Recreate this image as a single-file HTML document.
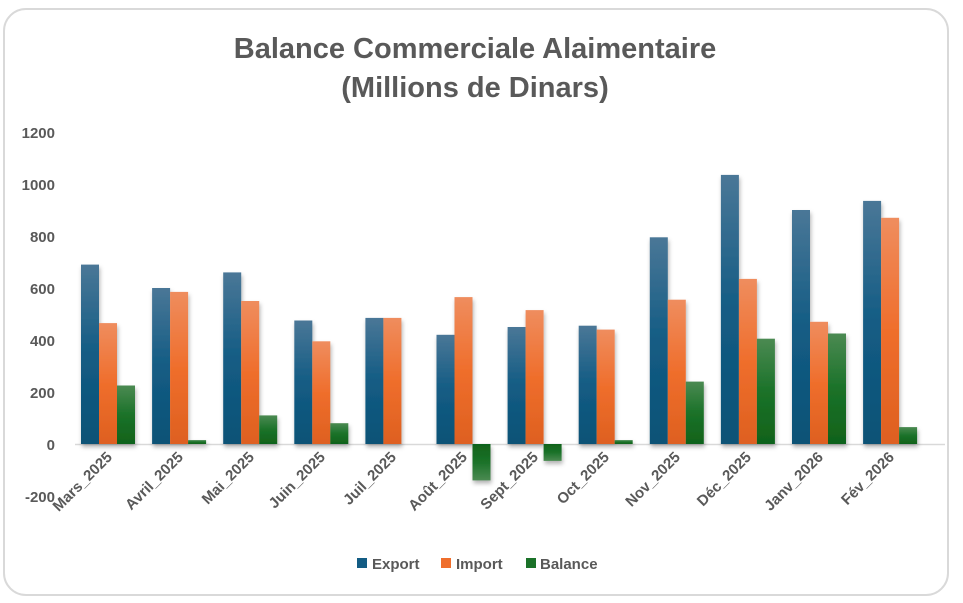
<!DOCTYPE html>
<html><head><meta charset="utf-8"><style>
html,body{margin:0;padding:0;background:#fff;}
svg{display:block;font-family:"Liberation Sans",sans-serif;}
</style></head><body>
<svg width="963" height="603" viewBox="0 0 963 603" xmlns="http://www.w3.org/2000/svg">
<defs>
<linearGradient id="ge" x1="0" y1="0" x2="0" y2="1"><stop offset="0" stop-color="#4a7797"/><stop offset="0.5" stop-color="#135c84"/><stop offset="1" stop-color="#0d5276"/></linearGradient>
<linearGradient id="gi" x1="0" y1="0" x2="0" y2="1"><stop offset="0" stop-color="#ef8d5e"/><stop offset="0.5" stop-color="#ef6e2c"/><stop offset="1" stop-color="#de6020"/></linearGradient>
<linearGradient id="gb" x1="0" y1="0" x2="0" y2="1"><stop offset="0" stop-color="#4b8a52"/><stop offset="0.5" stop-color="#1b7229"/><stop offset="1" stop-color="#10621a"/></linearGradient>
<linearGradient id="gbn" x1="0" y1="1" x2="0" y2="0"><stop offset="0" stop-color="#4b8a52"/><stop offset="0.5" stop-color="#1b7229"/><stop offset="1" stop-color="#10621a"/></linearGradient>
<filter id="sh" x="-20%" y="-5%" width="140%" height="115%"><feDropShadow dx="1" dy="3" stdDeviation="2" flood-color="#000" flood-opacity="0.3"/></filter>
</defs>
<rect x="4" y="9" width="944" height="586" rx="22" ry="22" fill="#fff" stroke="#d9d9d9" stroke-width="2"/>
<text x="475" y="58" text-anchor="middle" font-size="29" font-weight="bold" fill="#595959">Balance Commerciale Alaimentaire</text>
<text x="475" y="97" text-anchor="middle" font-size="29" font-weight="bold" fill="#595959">(Millions de Dinars)</text>
<g font-size="15" font-weight="bold" fill="#595959" text-anchor="end">
<text x="55" y="138">1200</text><text x="55" y="190">1000</text><text x="55" y="242">800</text><text x="55" y="294">600</text><text x="55" y="346">400</text><text x="55" y="398">200</text><text x="55" y="450">0</text><text x="55" y="502">-200</text>
</g>
<line x1="75" y1="444.5" x2="945" y2="444.5" stroke="#d9d9d9" stroke-width="1.5"/>
<g filter="url(#sh)">
<rect x="81" y="264.6" width="18" height="179.4" fill="url(#ge)"/><rect x="99" y="323.1" width="18" height="120.9" fill="url(#gi)"/><rect x="117" y="385.5" width="18" height="58.5" fill="url(#gb)"/>
<rect x="152.1" y="288" width="18" height="156" fill="url(#ge)"/><rect x="170.1" y="291.9" width="18" height="152.1" fill="url(#gi)"/><rect x="188.1" y="440.1" width="18" height="3.9" fill="url(#gb)"/>
<rect x="223.2" y="272.4" width="18" height="171.6" fill="url(#ge)"/><rect x="241.2" y="301" width="18" height="143" fill="url(#gi)"/><rect x="259.2" y="415.4" width="18" height="28.6" fill="url(#gb)"/>
<rect x="294.3" y="320.5" width="18" height="123.5" fill="url(#ge)"/><rect x="312.3" y="341.3" width="18" height="102.7" fill="url(#gi)"/><rect x="330.3" y="423.2" width="18" height="20.8" fill="url(#gb)"/>
<rect x="365.4" y="317.9" width="18" height="126.1" fill="url(#ge)"/><rect x="383.4" y="317.9" width="18" height="126.1" fill="url(#gi)"/>
<rect x="436.5" y="334.8" width="18" height="109.2" fill="url(#ge)"/><rect x="454.5" y="297.1" width="18" height="146.9" fill="url(#gi)"/><rect x="472.5" y="444" width="18" height="36.4" fill="url(#gbn)"/>
<rect x="507.6" y="327" width="18" height="117" fill="url(#ge)"/><rect x="525.6" y="310.1" width="18" height="133.9" fill="url(#gi)"/><rect x="543.6" y="444" width="18" height="16.9" fill="url(#gbn)"/>
<rect x="578.7" y="325.7" width="18" height="118.3" fill="url(#ge)"/><rect x="596.7" y="329.6" width="18" height="114.4" fill="url(#gi)"/><rect x="614.7" y="440.1" width="18" height="3.9" fill="url(#gb)"/>
<rect x="649.8" y="237.3" width="18" height="206.7" fill="url(#ge)"/><rect x="667.8" y="299.7" width="18" height="144.3" fill="url(#gi)"/><rect x="685.8" y="381.6" width="18" height="62.4" fill="url(#gb)"/>
<rect x="720.9" y="174.9" width="18" height="269.1" fill="url(#ge)"/><rect x="738.9" y="278.9" width="18" height="165.1" fill="url(#gi)"/><rect x="756.9" y="338.7" width="18" height="105.3" fill="url(#gb)"/>
<rect x="792" y="210" width="18" height="234" fill="url(#ge)"/><rect x="810" y="321.8" width="18" height="122.2" fill="url(#gi)"/><rect x="828" y="333.5" width="18" height="110.5" fill="url(#gb)"/>
<rect x="863.1" y="200.9" width="18" height="243.1" fill="url(#ge)"/><rect x="881.1" y="217.8" width="18" height="226.2" fill="url(#gi)"/><rect x="899.1" y="427.1" width="18" height="16.9" fill="url(#gb)"/>
</g>
<g font-size="15" font-weight="bold" fill="#595959" text-anchor="end">
<text transform="translate(113,458) rotate(-45)">Mars_2025</text>
<text transform="translate(184,458) rotate(-45)">Avril_2025</text>
<text transform="translate(255,458) rotate(-45)">Mai_2025</text>
<text transform="translate(326,458) rotate(-45)">Juin_2025</text>
<text transform="translate(397,458) rotate(-45)">Juil_2025</text>
<text transform="translate(468,458) rotate(-45)">Août_2025</text>
<text transform="translate(539,458) rotate(-45)">Sept_2025</text>
<text transform="translate(610,458) rotate(-45)">Oct_2025</text>
<text transform="translate(681,458) rotate(-45)">Nov_2025</text>
<text transform="translate(752,458) rotate(-45)">Déc_2025</text>
<text transform="translate(824,458) rotate(-45)">Janv_2026</text>
<text transform="translate(895,458) rotate(-45)">Fév_2026</text>
</g>
<rect x="357" y="558" width="10" height="10" fill="#135c84"/>
<rect x="441" y="558" width="10" height="10" fill="#ef6e2c"/>
<rect x="526" y="558" width="10" height="10" fill="#1b7229"/>
<g font-size="15" font-weight="bold" fill="#595959">
<text x="372" y="569">Export</text><text x="456" y="569">Import</text><text x="540" y="569">Balance</text>
</g>
</svg>
</body></html>
